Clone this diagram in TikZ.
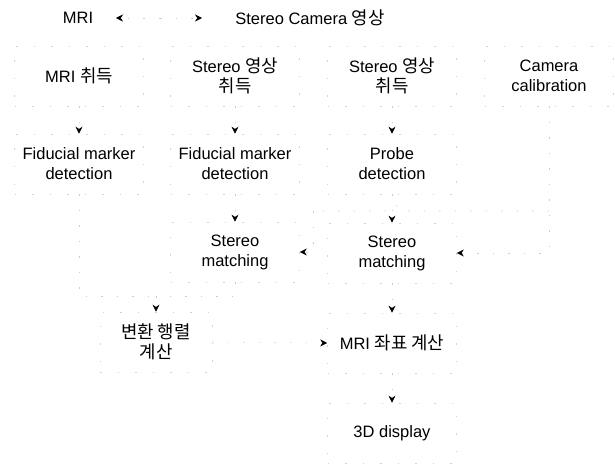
\documentclass[tikz,border=0pt]{standalone}
\usepackage{fontspec}
\setmainfont{Liberation Sans}
\newfontfamily\kr[Scale=1.08]{Noto Sans CJK KR}
\usetikzlibrary{arrows.meta}
\begin{document}
\begin{tikzpicture}[x=1pt,y=-1pt,
  every node/.style={font=\fontsize{16.5}{20}\selectfont, align=center, inner sep=0pt},
  stepbox/.style={draw=gray!35, line width=0.6pt, dash pattern=on 1.5pt off 16pt, minimum height=60pt},
  wideb/.style={stepbox, minimum width=129pt},
  faint/.style={draw=gray!40, line width=0.6pt, dash pattern=on 1.5pt off 14pt},
  arr/.style={faint, -{Stealth[length=7pt,width=7pt,black]}}
]
\useasboundingbox (0,0) rectangle (615,465);
% legend
\node (lmri) at (78,18) {MRI};
\node (lcam) at (310,18) {Stereo Camera {\kr 영상}};
\coordinate (lmid) at (160,18);
\coordinate (la) at (116,18);
\coordinate (lb) at (202,18);
\draw[arr] (lmid) -- (la);
\draw[arr] (lmid) -- (lb);
% row 1
\node[wideb] (mri) at (79,76) {MRI {\kr 취득}};
\node[wideb] (st2) at (235,76) {Stereo {\kr 영상}\\{\kr 취득}};
\node[wideb] (st3) at (392,76) {Stereo {\kr 영상}\\{\kr 취득}};
\node[wideb] (cal) at (549,76) {Camera\\calibration};
% row 2
\node[wideb] (fm1) at (79,164) {Fiducial marker\\detection};
\node[wideb] (fm2) at (235,164) {Fiducial marker\\detection};
\node[wideb] (pd) at (392,164) {Probe\\detection};
% row 3
\node[wideb] (sm2) at (235,252) {Stereo\\matching};
\node[wideb] (sm3) at (392,253) {Stereo\\matching};
% row 4
\node[stepbox, minimum width=112pt] (tr) at (156,342) {{\kr 변환 행렬}\\{\kr 계산}};
\node[wideb] (mc) at (392,343) {MRI {\kr 좌표 계산}};
% row 5
\node[wideb] (disp) at (392,433) {3D display};
% connectors
\draw[arr] (mri) -- (fm1);
\draw[arr] (st2) -- (fm2);
\draw[arr] (fm2) -- (sm2);
\draw[arr] (st3) -- (pd);
\draw[arr] (pd) -- (sm3);
\draw[arr] (sm3) -- (mc);
\draw[arr] (mc) -- (disp);
\coordinate (m1) at (156,296);
\draw[faint] (fm1.south) |- (m1);
\draw[faint] (sm2.south) |- (m1);
\draw[arr] (m1) -- (tr.north);
\draw[arr] (tr.east) -- (mc.west);
% camera calibration feeds
\draw[arr] (cal.south) |- (sm3.east);
\coordinate (b1) at (549,211);
\coordinate (h1) at (399,211);
\coordinate (h2) at (385,211);
\coordinate (b2) at (313,211);
\draw[faint] (b1) -- (h1) .. controls (399,202) and (385,202) .. (h2) -- (b2);
\draw[arr] (b2) |- (sm2.east);
\end{tikzpicture}
\end{document}
